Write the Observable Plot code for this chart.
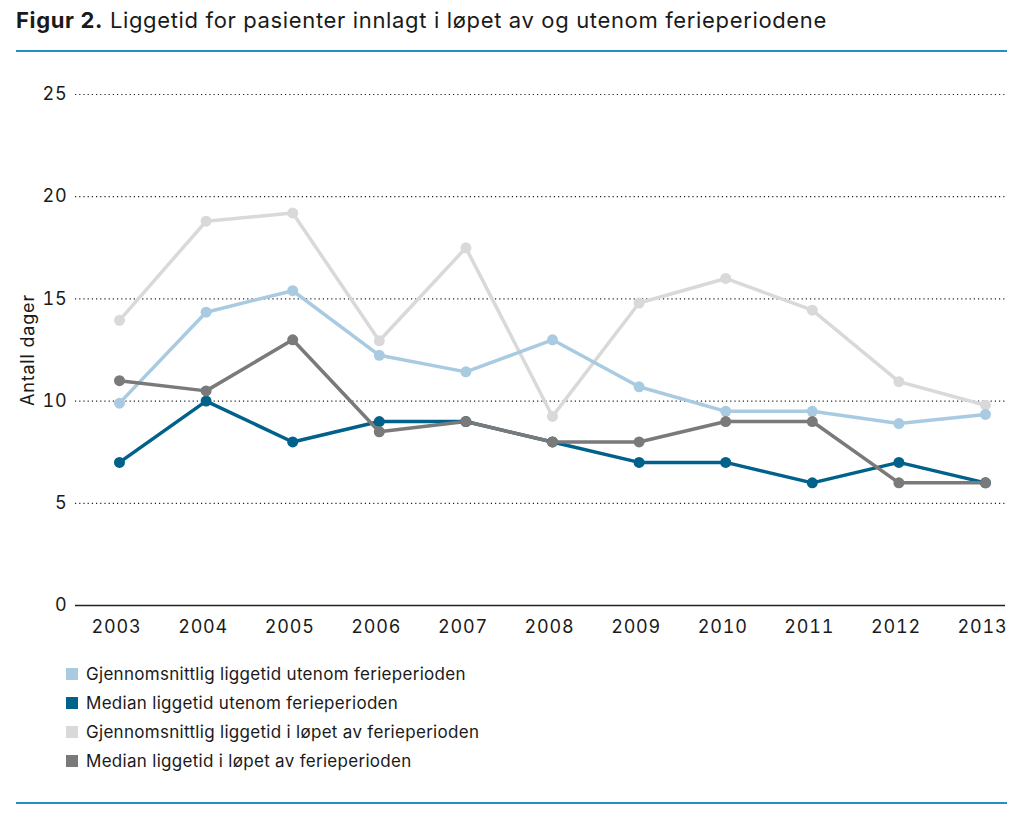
<!DOCTYPE html>
<html>
<head>
<meta charset="utf-8">
<script src="https://cdn.jsdelivr.net/npm/d3@7/dist/d3.min.js"></script>
<script src="https://cdn.jsdelivr.net/npm/@observablehq/plot@0.6/dist/plot.umd.min.js"></script>
<style>
  body { margin: 0; background: #fff; font-family: Inter, "Noto Sans", sans-serif; color: #1a1a1a; }
  #wrap { width: 1024px; height: 830px; position: relative; }
  #title { position: absolute; left: 16px; top: 7px; font-size: 22px; letter-spacing: 0.65px; white-space: nowrap; }
  #title b { font-weight: 700; }
  .rule { position: absolute; left: 16px; width: 991px; height: 2px; background: #2b8cc4; }
  #chart { position: absolute; left: 0; top: 60px; }
  #legend { position: absolute; left: 66px; top: 659px; font-size: 17px; letter-spacing: 0.3px; }
  .item { display: flex; align-items: center; height: 29px; }
  .sw { width: 12px; height: 12px; margin-right: 8px; }
</style>
</head>
<body>
<div id="wrap">
  <div id="title"><b>Figur 2.</b> Liggetid for pasienter innlagt i løpet av og utenom ferieperiodene</div>
  <div class="rule" style="top:50px"></div>
  <div id="chart"></div>
  <div id="legend"></div>
  <div class="rule" style="top:802px"></div>
</div>
<script>
const years = [2003, 2004, 2005, 2006, 2007, 2008, 2009, 2010, 2011, 2012, 2013];
const seriesNames = [
  "Gjennomsnittlig liggetid utenom ferieperioden",
  "Median liggetid utenom ferieperioden",
  "Gjennomsnittlig liggetid i løpet av ferieperioden",
  "Median liggetid i løpet av ferieperioden"
];
const seriesColors = ["#a9cbe1", "#00618a", "#d9d9d9", "#7a7a7a"];
const meanOutside = [9.9, 14.35, 15.4, 12.24, 11.43, 13.0, 10.7, 9.5, 9.5, 8.9, 9.35];
const medianOutside = [7, 10, 8, 9, 9, 8, 7, 7, 6, 7, 6];
const meanDuring = [13.95, 18.8, 19.2, 12.95, 17.5, 9.25, 14.8, 16.0, 14.45, 10.95, 9.8];
const medianDuring = [11, 10.5, 13, 8.5, 9, 8, 8, 9, 9, 6, 6];
const yTicks = [0, 5, 10, 15, 20, 25];
const gridTicks = [5, 10, 15, 20, 25];

const valuesBySeries = [meanOutside, medianOutside, meanDuring, medianDuring];
const data = [];
valuesBySeries.forEach((vals, i) => {
  vals.forEach((v, j) => data.push({series: seriesNames[i], year: years[j], value: v}));
});
const drawOrder = [2, 0, 1, 3];

const marks = [
  Plot.ruleY(gridTicks, {stroke: "#222", strokeDasharray: "1.2,3", strokeWidth: 1.2, insetLeft: -44, insetRight: -20}),
  Plot.ruleY([0], {stroke: "#222", strokeWidth: 1.5, insetLeft: -44, insetRight: -20}),
];
for (const i of drawOrder) {
  marks.push(Plot.line(data.filter(d => d.series === seriesNames[i]), {x: "year", y: "value", stroke: seriesColors[i], strokeWidth: 3.5}));
}
for (const i of drawOrder) {
  marks.push(Plot.dot(data.filter(d => d.series === seriesNames[i]), {x: "year", y: "value", fill: seriesColors[i], r: 5.5}));
}
marks.push(Plot.axisX(years, {tickSize: 0, tickPadding: 15, dx: -3, fontSize: 18, tickFormat: d => String(d), label: null, fill: "#1a1a1a"}));
marks.push(Plot.axisY(yTicks, {tickSize: 0, tickPadding: 52, fontSize: 18, label: "Antall dager", labelAnchor: "center", labelArrow: "none", labelOffset: 98, fill: "#1a1a1a"}));

const plot = Plot.plot({
  width: 1024,
  height: 590,
  marginLeft: 119,
  marginRight: 39,
  marginTop: 34,
  marginBottom: 45,
  x: {type: "linear", domain: [2003, 2013]},
  y: {domain: [0, 25]},
  style: {fontFamily: "Inter, 'Noto Sans', sans-serif", fontSize: "18px", letterSpacing: "0.8px", color: "#1a1a1a", background: "transparent"},
  marks
});
document.getElementById("chart").appendChild(plot);

const legend = document.getElementById("legend");
seriesNames.forEach((name, i) => {
  const item = document.createElement("div");
  item.className = "item";
  const sw = document.createElement("span");
  sw.className = "sw";
  sw.style.background = seriesColors[i];
  const t = document.createElement("span");
  t.textContent = name;
  item.appendChild(sw);
  item.appendChild(t);
  legend.appendChild(item);
});
</script>
</body>
</html>
